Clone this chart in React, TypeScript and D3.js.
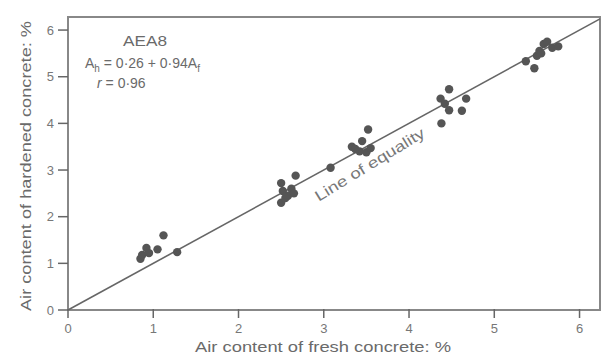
import React from "react";
import * as d3 from "d3";

const xTicks = [0, 1, 2, 3, 4, 5, 6];
const yTicks = [0, 1, 2, 3, 4, 5, 6];

const freshAir = [
  0.85, 0.87, 0.92, 0.95, 1.05, 1.12, 1.28,
  2.50, 2.67, 2.52, 2.62, 2.58, 2.50, 2.55, 2.65, 3.08,
  3.33, 3.45, 3.52, 3.42, 3.50, 3.37, 3.55,
  4.47, 4.37, 4.67, 4.47, 4.62, 4.38, 4.42,
  5.37, 5.47, 5.50, 5.53, 5.58, 5.62, 5.68, 5.75, 5.55,
];
const hardenedAir = [
  1.10, 1.18, 1.33, 1.22, 1.30, 1.60, 1.24,
  2.72, 2.88, 2.55, 2.60, 2.45, 2.30, 2.40, 2.50, 3.05,
  3.50, 3.62, 3.87, 3.40, 3.38, 3.45, 3.47,
  4.73, 4.53, 4.53, 4.28, 4.27, 4.00, 4.42,
  5.33, 5.18, 5.45, 5.55, 5.70, 5.75, 5.62, 5.65, 5.50,
];

const xMax = 6.24;
const yMax = 6.28;

export default function App() {
  const x = d3.scaleLinear().domain([0, xMax]).range([68, 600]);
  const y = d3.scaleLinear().domain([0, yMax]).range([310, 17]);
  const lineEnd = Math.min(xMax, yMax);
  const font = "'Liberation Sans', Arial, sans-serif";
  const textColor = "#6a6a6a";
  const lineColor = "#666";
  const lx = x(2.94);
  const ly = y(2.94) + 29;

  return (
    <svg
      width={603}
      height={362}
      style={{ position: "absolute", left: 0, top: 0, background: "#fff" }}
      fontFamily={font}
    >
      <rect
        x={x(0)}
        y={y(yMax)}
        width={x(xMax) - x(0)}
        height={y(0) - y(yMax)}
        fill="none"
        stroke="#888"
        strokeWidth={2}
      />
      <line
        x1={x(0)}
        y1={y(0)}
        x2={x(lineEnd)}
        y2={y(lineEnd)}
        stroke={lineColor}
        strokeWidth={1.6}
      />
      {xTicks.map((t) => (
        <g key={"xt" + t}>
          <line x1={x(t)} x2={x(t)} y1={y(0) - 1} y2={y(0) + 8} stroke={lineColor} strokeWidth={1.5} />
          <text x={x(t)} y={333} textAnchor="middle" fontSize={13} fill="#777">
            {t}
          </text>
        </g>
      ))}
      {yTicks.map((t) => (
        <g key={"yt" + t}>
          <line x1={x(0) - 10} x2={x(0)} y1={y(t)} y2={y(t)} stroke={lineColor} strokeWidth={1.5} />
          <text x={54} y={y(t) + 4.5} textAnchor="end" fontSize={13} fill="#777">
            {t}
          </text>
        </g>
      ))}
      {freshAir.map((f, i) => (
        <circle key={"p" + i} cx={x(f)} cy={y(hardenedAir[i])} r={4.2} fill="#555" />
      ))}
      <text
        x={323}
        y={352}
        textAnchor="middle"
        fontSize={14}
        fill={textColor}
        textLength={256}
        lengthAdjust="spacingAndGlyphs"
      >
        Air content of fresh concrete: %
      </text>
      <text
        transform={`translate(31,166) rotate(-90)`}
        textAnchor="middle"
        fontSize={14}
        fill={textColor}
        textLength={290}
        lengthAdjust="spacingAndGlyphs"
      >
        Air content of hardened concrete: %
      </text>
      <text x={123} y={46} fontSize={14} fill={textColor} textLength={44} lengthAdjust="spacingAndGlyphs">
        AEA8
      </text>
      <text x={85} y={68} fontSize={14} fill={textColor}>
        <tspan>A</tspan>
        <tspan fontSize={10} dy={4}>h</tspan>
        <tspan dy={-4}> = 0·26 + 0·94A</tspan>
        <tspan fontSize={10} dy={4}>f</tspan>
      </text>
      <text x={97} y={88} fontSize={14} fill={textColor}>
        <tspan fontStyle="italic">r</tspan>
        <tspan> = 0·96</tspan>
      </text>
      <text
        transform={`translate(${lx},${ly}) rotate(-31.5)`}
        fontSize={15}
        fill="#777"
        textLength={126}
        lengthAdjust="spacingAndGlyphs"
      >
        Line of equality
      </text>
    </svg>
  );
}
